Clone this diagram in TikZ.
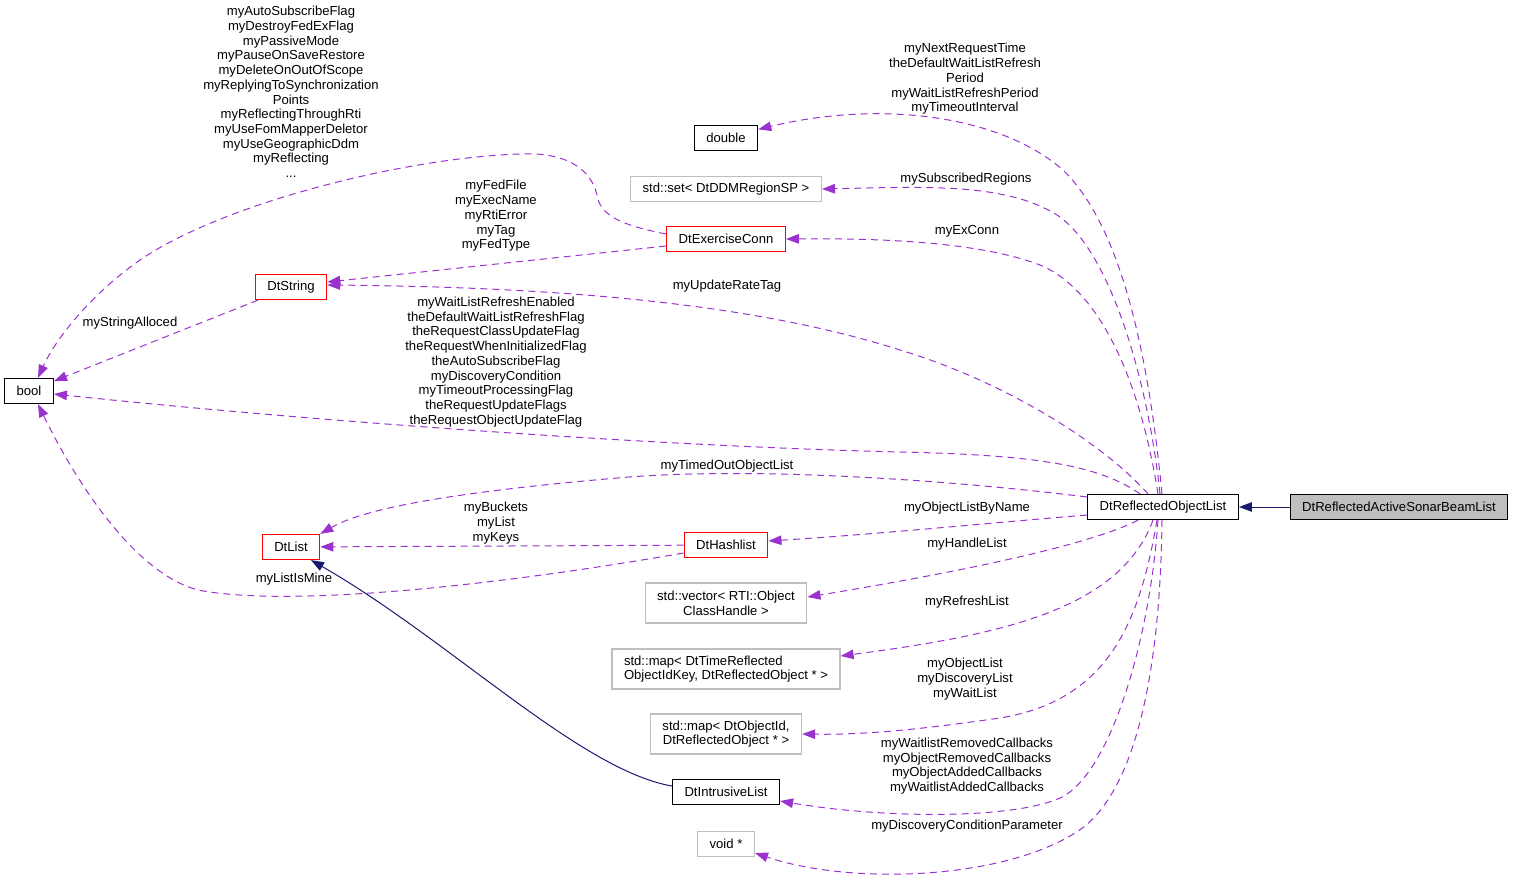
\documentclass[tikz,border=0pt]{standalone}
\usepackage{fontspec}
\setmainfont{Liberation Sans}
\usetikzlibrary{arrows.meta}
\definecolor{orchid}{HTML}{9A32CD}
\definecolor{midnight}{HTML}{191970}
\definecolor{boxgray}{HTML}{BFBFBF}

\begin{document}
\begin{tikzpicture}[
                    x=1pt, y=-1pt,
                    every node/.style={
                        font=\fontsize{13.1}{14.7}\selectfont
                    },
                    cls/.style={
                        draw=black,
                        line width=1.2pt,
                        fill=white,
                        inner xsep=12pt,
                        inner ysep=3pt,
                        minimum height=25pt
                    },
                    redcls/.style={cls, draw=red},
                    graycls/.style={cls, draw=boxgray},
                    twoline/.style={align=center, minimum height=40pt},
                    lbl/.style={align=center, inner sep=0pt},
                    uses/.style={
                        orchid,
                        line width=1pt,
                        dash pattern=on 7pt off 5pt,
                        -{Triangle[length=13pt,width=9.5pt]}
                    },
                    inherit/.style={
                        midnight,
                        line width=1pt,
                        -{Triangle[length=13pt,width=9.5pt]}
                    }
                ]
                    \useasboundingbox (0,0) rectangle (1515,883);

                    \node[cls] (rol) at (1163,507) {DtReflectedObjectList};
                    \node[cls, fill=boxgray] (sonar) at (1399,507) {DtReflectedActiveSonarBeamList};
                    \node[cls] (bool) at (29,391) {bool};
                    \node[redcls] (dtstring) at (291,287) {DtString};
                    \node[cls] (double) at (726,138) {double};
                    \node[graycls] (regset) at (726,189) {std::set< DtDDMRegionSP >};
                    \node[redcls] (exconn) at (726,239) {DtExerciseConn};
                    \node[redcls] (dtlist) at (291,547) {DtList};
                    \node[redcls] (hashlist) at (726,545) {DtHashlist};
                    \node[graycls, twoline] (handlevec) at (726,603) {std::vector< RTI::Object\\ClassHandle >};
                    \node[graycls, twoline, align=left] (timemap) at (726,669) {std::map< DtTimeReflected\\ObjectIdKey, DtReflectedObject * >};
                    \node[graycls, twoline] (idmap) at (726,734) {std::map< DtObjectId,\\DtReflectedObject * >};
                    \node[cls] (intrusive) at (726,792) {DtIntrusiveList};
                    \node[graycls] (voidptr) at (726,844) {void *};

                    % Labels
                    \node[lbl] (lbldouble) at (965,79) {myNextRequestTime\\theDefaultWaitListRefresh\\Period\\myWaitListRefreshPeriod\\myTimeoutInterval};
                    \node[lbl] (lblregset) at (966,179) {mySubscribedRegions};
                    \node[lbl] (lblexconn) at (967,231) {myExConn};
                    \node[lbl] (lblrate) at (727,286) {myUpdateRateTag};
                    \node[lbl] (lblfed) at (496,216) {myFedFile\\myExecName\\myRtiError\\myTag\\myFedType};
                    \node[lbl] (lblflags) at (291,92) {myAutoSubscribeFlag\\myDestroyFedExFlag\\myPassiveMode\\myPauseOnSaveRestore\\myDeleteOnOutOfScope\\myReplyingToSynchronization\\Points\\myReflectingThroughRti\\myUseFomMapperDeletor\\myUseGeographicDdm\\myReflecting\\...};
                    \node[lbl] (lblalloc) at (130,323) {myStringAlloced};
                    \node[lbl] (lblwait) at (496,362) {myWaitListRefreshEnabled\\theDefaultWaitListRefreshFlag\\theRequestClassUpdateFlag\\theRequestWhenInitializedFlag\\theAutoSubscribeFlag\\myDiscoveryCondition\\myTimeoutProcessingFlag\\theRequestUpdateFlags\\theRequestObjectUpdateFlag};
                    \node[lbl] (lbltimed) at (727,466) {myTimedOutObjectList};
                    \node[lbl] (lblbyname) at (967,508) {myObjectListByName};
                    \node[lbl] (lblbuckets) at (496,523) {myBuckets\\myList\\myKeys};
                    \node[lbl] (lblmine) at (294,579) {myListIsMine};
                    \node[lbl] (lblhandle) at (967,544) {myHandleList};
                    \node[lbl] (lblrefresh) at (967,602) {myRefreshList};
                    \node[lbl] (lblobjlist) at (965,679) {myObjectList\\myDiscoveryList\\myWaitList};
                    \node[lbl] (lblcallbacks) at (967,766) {myWaitlistRemovedCallbacks\\myObjectRemovedCallbacks\\myObjectAddedCallbacks\\myWaitlistAddedCallbacks};
                    \node[lbl] (lbldisc) at (967,826) {myDiscoveryConditionParameter};

                    % Edges
                    \draw[inherit] (sonar) -- (rol);
                    \draw[inherit] ([yshift=6pt]intrusive.west) .. controls (580,770) and (450,640) .. ([xshift=20pt]dtlist.south);

                    \draw[uses] ([xshift=-1pt]rol.north) .. controls (1150,370) and (1125,230) .. (1063,170) .. controls (1000,115) and (880,100) .. (double.15);
                    \draw[uses] ([xshift=-3pt]rol.north) .. controls (1148,380) and (1110,250) .. (1057,215) .. controls (1005,182) and (920,187) .. (regset.east);
                    \draw[uses] ([xshift=-5pt]rol.north) .. controls (1140,380) and (1100,290) .. (1040,265) .. controls (980,242) and (880,238) .. (exconn.east);
                    \draw[uses] ([xshift=-15pt]rol.north) .. controls (1100,440) and (1000,380) .. (900,350) .. controls (750,302) and (550,287) .. ([yshift=2pt]dtstring.east);
                    \draw[uses] ([xshift=-23pt]rol.north) .. controls (1100,466) and (1040,455) .. (900,452) .. controls (650,446) and (300,420) .. ([yshift=-3pt]bool.east);
                    \draw[uses] ([yshift=10pt]rol.west) .. controls (950,480) and (750,466) .. (617,478) .. controls (480,490) and (370,505) .. (dtlist.north east);
                    \draw[uses] ([yshift=-8pt]rol.west) .. controls (1000,522) and (880,534) .. ([yshift=4pt]hashlist.east);
                    \draw[uses] ([xshift=-25pt]rol.south) .. controls (1090,545) and (960,572) .. ([yshift=6pt]handlevec.east);
                    \draw[uses] ([xshift=-10pt]rol.south) .. controls (1120,610) and (1000,635) .. ([yshift=13pt]timemap.east);
                    \draw[uses] ([xshift=-6pt]rol.south) .. controls (1140,620) and (1110,700) .. (1000,718) .. controls (930,728) and (870,735) .. (idmap.east);
                    \draw[uses] ([xshift=-5pt]rol.south) .. controls (1150,640) and (1110,775) .. (1060,798) .. controls (1010,820) and (880,818) .. ([yshift=-9pt]intrusive.east);
                    \draw[uses] ([xshift=-1pt]rol.south) .. controls (1160,690) and (1130,800) .. (1075,833) .. controls (1000,880) and (850,885) .. ([yshift=-9pt]voidptr.east);

                    \draw[uses] ([yshift=-7pt]exconn.west) -- ([yshift=5pt]dtstring.east);
                    \draw[uses] ([yshift=5pt]exconn.west) .. controls (620,225) and (600,215) .. (597,195) .. controls (590,165) and (560,152) .. (520,154) .. controls (400,158) and (220,205) .. (140,260) .. controls (90,295) and (55,340) .. ([xshift=9pt]bool.north);
                    \draw[uses] (dtstring) -- (bool);
                    \draw[uses] (hashlist) -- (dtlist);
                    \draw[uses] ([yshift=-8pt]hashlist.west) .. controls (500,585) and (290,608) .. (198,590) .. controls (130,572) and (70,470) .. ([xshift=9pt]bool.south);
                \end{tikzpicture}
\end{document}
